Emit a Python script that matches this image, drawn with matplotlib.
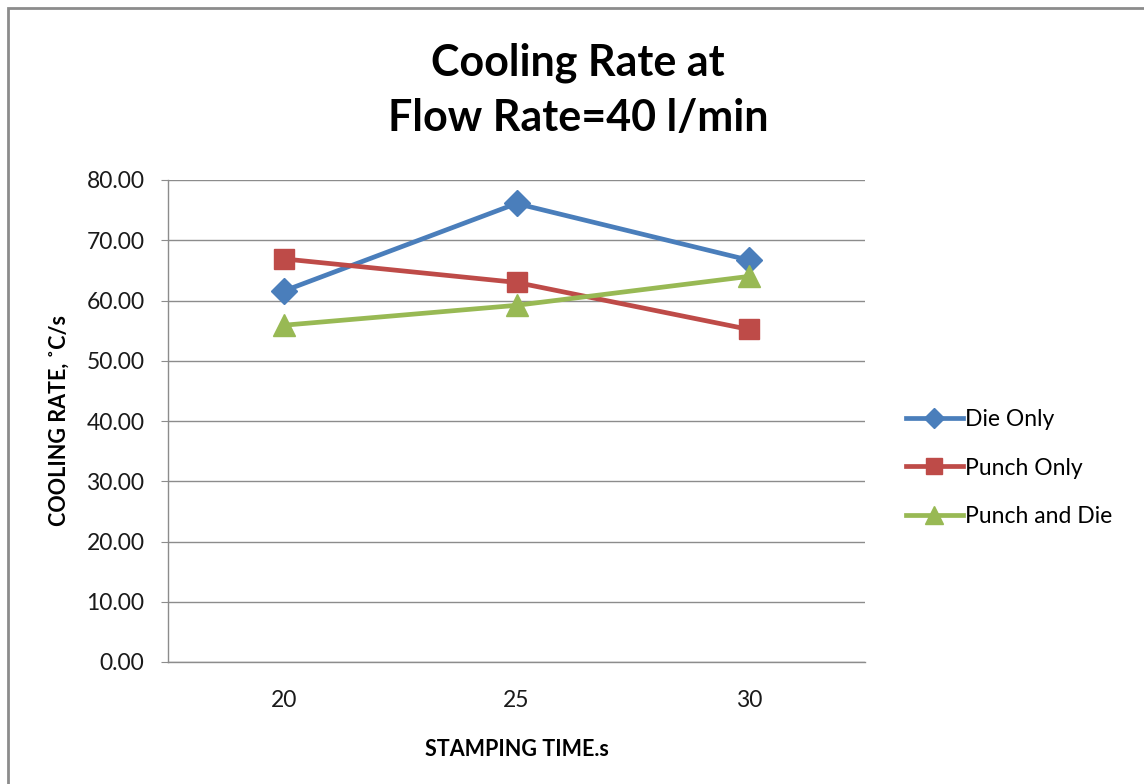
import matplotlib
matplotlib.use("Agg")
import matplotlib.pyplot as plt
from matplotlib.patches import Rectangle

categories = ["20", "25", "30"]
die_only = [61.6, 76.1, 66.7]
punch_only = [66.9, 63.0, 55.2]
punch_and_die = [55.9, 59.2, 64.0]
yticks = [0, 10, 20, 30, 40, 50, 60, 70, 80]

W, H = 1144, 784
fig = plt.figure(figsize=(W / 100, H / 100), dpi=100)
fig.patch.set_facecolor("white")
plt.rcParams['font.family'] = ['Lato', 'DejaVu Sans']

# outer chart border (cropped at right/bottom)
fig.patches.append(Rectangle((8 / W, -0.1), 1.2, 1 - 8 / H + 0.1, transform=fig.transFigure,
                             fill=False, edgecolor="#8c8c8c", linewidth=2.0))

ax = fig.add_axes([168 / W, 1 - 662 / H, (865 - 168) / W, (662 - 180) / H])
x = list(range(len(categories)))

ax.plot(x, die_only, color="#4A7EBB", lw=3.4, marker="D", ms=13, label="Die Only")
ax.plot(x, punch_only, color="#BE4B48", lw=3.4, marker="s", ms=14, label="Punch Only")
ax.plot(x, punch_and_die, color="#98B954", lw=3.4, marker="^", ms=16, label="Punch and Die")

ax.set_xlim(-0.5, 2.5)
ax.set_ylim(0, 80)
ax.set_yticks(yticks)
ax.set_yticklabels([f"{v:.2f}" for v in yticks])
ax.set_xticks(x)
ax.set_xticklabels(categories)
ax.grid(axis="y", color="#8c8c8c", lw=1.0)
ax.set_axisbelow(True)
for s in ["top", "right"]:
    ax.spines[s].set_visible(False)
for s in ["left", "bottom"]:
    ax.spines[s].set_color("#8c8c8c")
    ax.spines[s].set_linewidth(1.0)
ax.tick_params(axis="y", length=5, color="#8c8c8c", labelsize=16.5, pad=12, labelcolor="#1a1a1a")
ax.tick_params(axis="x", length=0, labelsize=16.5, pad=20, labelcolor="#1a1a1a")

ax.set_xlabel("STAMPING TIME.s", fontsize=15.5, fontweight="bold", labelpad=20)
ax.set_ylabel("COOLING RATE, ˚C/s", fontsize=15.5, fontweight="bold", labelpad=12)

fig.text(578 / W, 1 - 90 / H, "Cooling Rate at\nFlow Rate=40 l/min", ha="center", va="center",
         fontsize=31, fontweight="bold", linespacing=1.45)

leg = ax.legend(loc="center left", bbox_to_anchor=(885 / W, 1 - 468 / H), bbox_transform=fig.transFigure,
                frameon=False, fontsize=16.5, handlelength=2.5, handletextpad=0.1, labelspacing=1.2,
                markerscale=0.8)

fig.savefig("out.png", dpi=100)
